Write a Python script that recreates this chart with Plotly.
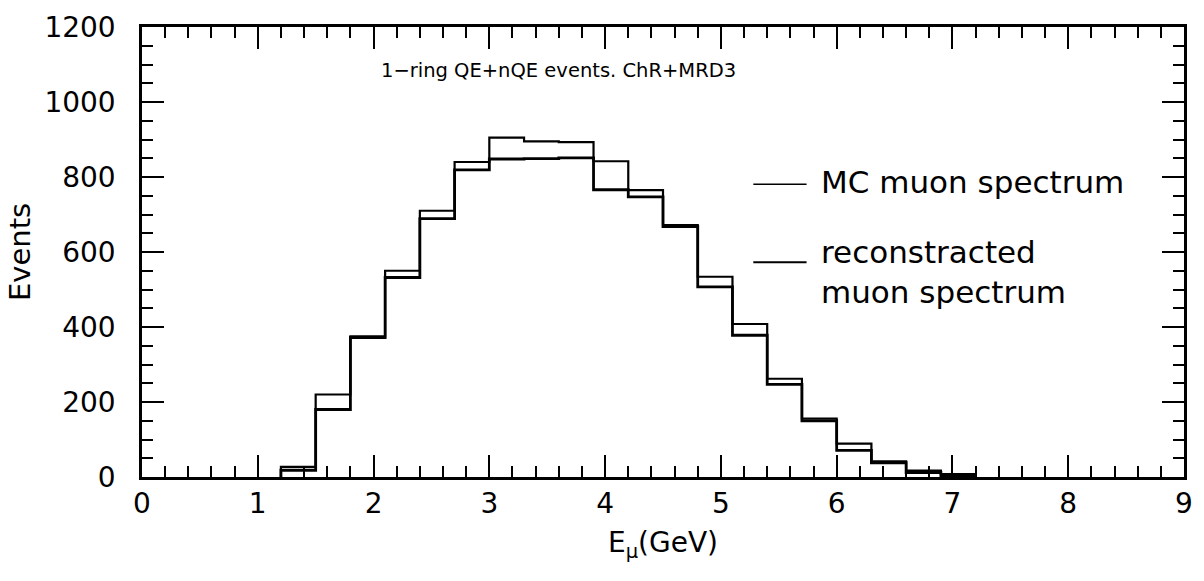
import plotly.graph_objects as go

# Bin edges (GeV) and bin contents
bin_edges = [1.2, 1.5, 1.8, 2.1, 2.4, 2.7, 3.0, 3.3, 3.6, 3.9, 4.2,
             4.5, 4.8, 5.1, 5.4, 5.7, 6.0, 6.3, 6.6, 6.9, 7.2]
mc_counts = [27, 220, 375, 550, 710, 840, 905, 895, 893, 842,
             765, 672, 534, 408, 262, 156, 89, 42, 17, 8]
reco_counts = [18, 180, 372, 532, 689, 819, 848, 849, 851, 766,
               747, 668, 507, 378, 247, 150, 71, 38, 12, 4]

x_ticks = [0, 1, 2, 3, 4, 5, 6, 7, 8, 9]
y_ticks = [0, 200, 400, 600, 800, 1000, 1200]

title_text = "1\u2212ring QE+nQE events. ChR+MRD3"
mc_label = "MC muon spectrum"
reco_label = "reconstracted<br>muon spectrum"

FONT = "DejaVu Sans"


def step_xy(edges, counts):
    xs = [edges[0]] + list(edges)
    ys = [0] + list(counts) + [0]
    return xs, ys


fig = go.Figure()
for counts, w in ((mc_counts, 2.2), (reco_counts, 2.8)):
    xs, ys = step_xy(bin_edges, counts)
    fig.add_trace(go.Scatter(x=xs, y=ys, mode="lines", line_shape="hv",
                             line=dict(color="black", width=w),
                             showlegend=False, hoverinfo="skip"))

axis_common = dict(
    showgrid=False, zeroline=False, showline=True, linecolor="black",
    linewidth=2.5, mirror="ticks", ticks="inside", tickcolor="black",
    tickwidth=2, ticklen=22,
    tickfont=dict(family=FONT, size=28, color="black"),
)

fig.update_xaxes(range=[0, 9], tickvals=x_ticks, ticktext=[str(v) for v in x_ticks],
                 minor=dict(dtick=0.2, ticks="inside", ticklen=11, tickwidth=1.5,
                            tickcolor="black"),
                 ticklabelstandoff=0,
                 title=dict(text="E<sub>\u03bc</sub>(GeV)", standoff=14,
                            font=dict(family=FONT, size=28, color="black")),
                 **axis_common)
fig.update_yaxes(range=[0, 1200], tickvals=y_ticks, ticktext=[str(v) for v in y_ticks],
                 minor=dict(dtick=50, ticks="inside", ticklen=11, tickwidth=1.5,
                            tickcolor="black"),
                 ticklabelstandoff=18,
                 title=dict(text="Events", standoff=6,
                            font=dict(family=FONT, size=29, color="black")),
                 **axis_common)

# Title text inside the frame
fig.add_annotation(x=3.6, y=1085, xref="x", yref="y", text=title_text,
                   showarrow=False, xanchor="center", yanchor="middle",
                   font=dict(family=FONT, size=19.5, color="black"))

# Legend drawn inside the plot
fig.add_shape(type="line", xref="x", yref="y", x0=5.28, x1=5.74, y0=781, y1=781,
              line=dict(color="black", width=1.5))
fig.add_annotation(x=5.85, y=787, xref="x", yref="y", text=mc_label,
                   showarrow=False, xanchor="left", yanchor="middle",
                   font=dict(family=FONT, size=31, color="black"))
fig.add_shape(type="line", xref="x", yref="y", x0=5.28, x1=5.74, y0=573, y1=573,
              line=dict(color="black", width=2))
fig.add_annotation(x=5.85, y=547, xref="x", yref="y", text=reco_label,
                   showarrow=False, xanchor="left", yanchor="middle", align="left",
                   font=dict(family=FONT, size=31, color="black"))

fig.update_layout(
    width=1204, height=581,
    margin=dict(l=142, r=11, t=27, b=104),
    paper_bgcolor="white", plot_bgcolor="white",
    font=dict(family=FONT, color="black"),
)

fig.write_html("out.html")
